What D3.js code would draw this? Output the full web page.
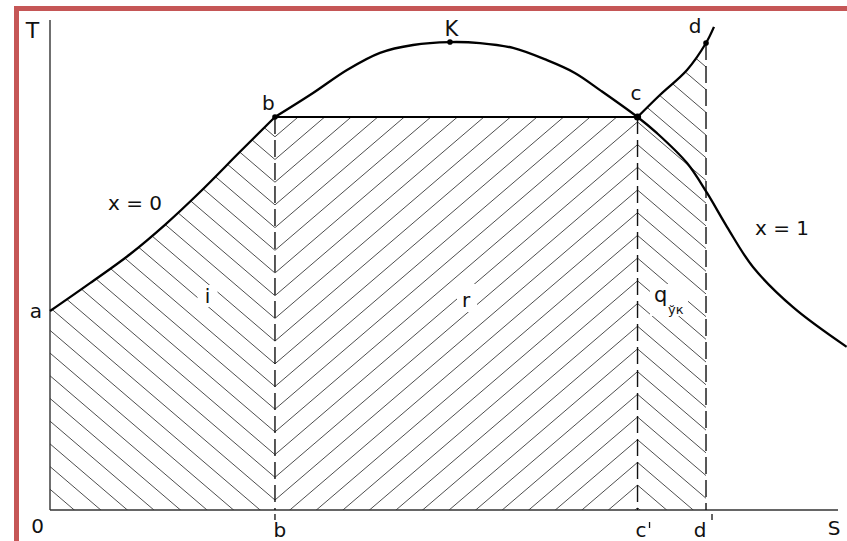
<!DOCTYPE html>
<html><head><meta charset="utf-8">
<script src="https://cdn.jsdelivr.net/npm/d3@7"></script>
<style>
html,body{margin:0;padding:0;background:#fff;}
svg{display:block;}
text{font-family:"DejaVu Sans",Verdana,sans-serif;fill:#111;}
</style>
</head><body>
<svg id="chart" width="847" height="541"></svg>
<script>
// ---- data (S, T in arbitrary diagram units) ----
const sDomain = [0, 100];
const tDomain = [0, 100];
// liquid line x = 0 (a -> b)
const liquidLine = [[0,40.6],[5.08,46.3],[10.15,52.2],[14.59,58.2],[19.04,64.9],[24.11,73.1],[28.55,80.2]];
// saturation dome b -> K -> c and dry vapour line x = 1
const saturationLine = [[28.55,80.2],[33.38,85.1],[37.69,89.8],[41.88,93.3],[46.07,94.9],[50.76,95.5],[54.57,95.3],[58.76,94.3],[63.07,91.8],[66.6,89.2],[69.8,85.7],[74.56,80.2],[77.03,76.9],[80.84,70.8],[83.38,64.7],[85.91,57.8],[89.21,49.6],[94.29,41.4],[101.1,33.3]];
// superheat line c -> d
const superheatLine = [[74.56,80.2],[77.4,84.7],[80.84,89.8],[83.25,95.3],[84.26,98.6]];
// named points
const pointNames = ["a","b","K","c","d"];
const pointS = [0, 28.55, 50.76, 74.56, 83.25];
const pointT = [40.6, 80.2, 95.5, 80.2, 95.3];
const axisLabels = ["T","S","0"];
const footLabels = ["b","c","d"];
const curveLabels = ["x = 0","x = 1"];
const areaLabels = ["i","r","q"];
const areaSub = "ўк";

const svg = d3.select("#chart");
const x = d3.scaleLinear().domain(sDomain).range([50, 838]);
const y = d3.scaleLinear().domain(tDomain).range([510, 20]);
const P = {};
pointNames.forEach((n,i)=>P[n]={s:pointS[i],t:pointT[i],px:x(pointS[i]),py:y(pointT[i])});

const line = d3.line().x(d=>x(d[0])).y(d=>y(d[1])).curve(d3.curveCatmullRom.alpha(0.5));

// ---- clip regions ----
const defs = svg.append("defs");
defs.append("clipPath").attr("id","clipI").append("path")
  .attr("d", line(liquidLine) + `L${x(P.b.s)},${y(0)}L${x(0)},${y(0)}Z`);
defs.append("clipPath").attr("id","clipR").append("rect")
  .attr("x",x(P.b.s)).attr("y",y(P.b.t)).attr("width",x(P.c.s)-x(P.b.s)).attr("height",y(0)-y(P.b.t));
defs.append("clipPath").attr("id","clipQ").append("path")
  .attr("d", line(superheatLine) + `L${x(superheatLine[superheatLine.length-1][0])},${y(0)}L${x(P.c.s)},${y(0)}Z`);
defs.append("clipPath").attr("id","clipQx").append("rect")
  .attr("x",x(P.c.s)).attr("y",0).attr("width",x(P.d.s)-x(P.c.s)).attr("height",y(0));

// ---- hatching ----
const m = 0.855, per = 22.7;
function hatch(g, dir, ax, ay, x0, x1, y0, y1){
  const yA = ay + dir*m*(x0-ax), yB = ay + dir*m*(x1-ax);
  const kmin = Math.floor((y0 - Math.max(yA,yB))/per) - 1;
  const kmax = Math.ceil((y1 - Math.min(yA,yB))/per) + 1;
  const ks = d3.range(kmin, kmax+1);
  g.selectAll("line").data(ks).join("line")
    .attr("x1",x0).attr("x2",x1)
    .attr("y1",k=>yA+k*per).attr("y2",k=>yB+k*per)
    .attr("stroke","#3a3a3a").attr("stroke-width",0.9);
}
const anchorY = y(0) - 10;
const gI = svg.append("g").attr("clip-path","url(#clipI)");
hatch(gI, 1, x(P.b.s), anchorY, x(0), x(P.b.s), y(100), y(0));
const gR = svg.append("g").attr("clip-path","url(#clipR)");
hatch(gR, -1, x(P.b.s), anchorY, x(P.b.s), x(P.c.s), y(100), y(0));
const qAnchor = anchorY - m*(x(P.c.s)-x(P.b.s));
const gQ = svg.append("g").attr("clip-path","url(#clipQx)").append("g").attr("clip-path","url(#clipQ)");
hatch(gQ, 1, x(P.c.s), qAnchor, x(P.c.s), x(P.d.s), y(100), y(0));

// ---- area labels with knockouts ----
const lblLayer = svg.append("g");
function knock(cx, cy, w, h){
  lblLayer.append("rect").attr("x",cx-w/2).attr("y",cy-h/2).attr("width",w).attr("height",h).attr("fill","#fff");
}
knock(207.5, 296, 20, 22);
knock(467, 298, 20, 28);
knock(669, 300, 38, 32);
lblLayer.append("text").attr("x",207.5).attr("y",303).attr("text-anchor","middle").attr("font-size",20).text(areaLabels[0]);
lblLayer.append("text").attr("x",466).attr("y",307).attr("text-anchor","middle").attr("font-size",20).text(areaLabels[1]);
lblLayer.append("text").attr("x",654).attr("y",302).attr("font-size",21).text(areaLabels[2]);
lblLayer.append("text").attr("x",668).attr("y",314).attr("font-size",13).text(areaSub);

// ---- axes ----
svg.append("line").attr("x1",x(0)).attr("x2",x(0)).attr("y1",y(100)).attr("y2",y(0))
  .attr("stroke","#333").attr("stroke-width",1.4);
svg.append("line").attr("x1",x(0)).attr("x2",x(100)).attr("y1",y(0)).attr("y2",y(0))
  .attr("stroke","#333").attr("stroke-width",1.5);

// ---- dashed verticals ----
["b","c","d"].forEach(n=>{
  svg.append("line").attr("x1",P[n].px).attr("x2",P[n].px).attr("y1",P[n].py).attr("y2",y(0))
    .attr("stroke","#111").attr("stroke-width",1.4).attr("stroke-dasharray","17,6");
});

// ---- curves ----
svg.append("line").attr("x1",P.b.px).attr("x2",P.c.px).attr("y1",P.b.py).attr("y2",P.c.py)
  .attr("stroke","#000").attr("stroke-width",2.2);
[liquidLine, saturationLine, superheatLine].forEach(d=>{
  svg.append("path").attr("d",line(d)).attr("fill","none").attr("stroke","#000").attr("stroke-width",2.3);
});
// dots
["b","K","c","d"].forEach(n=>{
  svg.append("circle").attr("cx",P[n].px).attr("cy",P[n].py).attr("r",n==="c"?3.6:2.8).attr("fill","#000");
});

// ---- point labels ----
const off = {a:[-8,7,"end"], b:[-6.5,-7,"middle"], K:[1.5,-6,"middle"], c:[-1.5,-17,"middle"], d:[-11,-10,"middle"]};
pointNames.forEach(n=>{
  svg.append("text").attr("x",P[n].px+off[n][0]).attr("y",P[n].py+off[n][1])
    .attr("text-anchor",off[n][2]).attr("font-size", n==="K"?21:20).text(n);
});
// axis labels
svg.append("text").attr("x",x(0)-17.5).attr("y",y(100)+18).attr("text-anchor","middle").attr("font-size",22).text(axisLabels[0]);
svg.append("text").attr("x",x(100)-4).attr("y",y(0)+25).attr("text-anchor","middle").attr("font-size",20).text(axisLabels[1]);
svg.append("text").attr("x",x(0)-12.5).attr("y",y(0)+23).attr("text-anchor","middle").attr("font-size",20).text(axisLabels[2]);
// foot labels with primes
const footOff = {b:[5,0], c:[3.5,12], d:[-6,6]};
footLabels.forEach(n=>{
  const fx = P[n].px;
  svg.append("text").attr("x",fx+footOff[n][0]).attr("y",y(0)+27).attr("text-anchor","middle").attr("font-size",20).text(n);
  svg.append("line").attr("x1",fx+footOff[n][1]).attr("x2",fx+footOff[n][1])
    .attr("y1",y(0)+(n==="c"?12:4)).attr("y2",y(0)+(n==="c"?18:10)).attr("stroke","#111").attr("stroke-width",1.3);
});
// curve labels
svg.append("text").attr("x",108).attr("y",210).attr("font-size",20).text(curveLabels[0]);
svg.append("text").attr("x",755).attr("y",235).attr("font-size",20).text(curveLabels[1]);

// ---- frame ----
svg.append("line").attr("x1",14).attr("x2",847).attr("y1",8.5).attr("y2",8.5).attr("stroke","#c55656").attr("stroke-width",5);
svg.append("line").attr("x1",16.5).attr("x2",16.5).attr("y1",6).attr("y2",541).attr("stroke","#c55656").attr("stroke-width",5);
</script>
</body></html>
